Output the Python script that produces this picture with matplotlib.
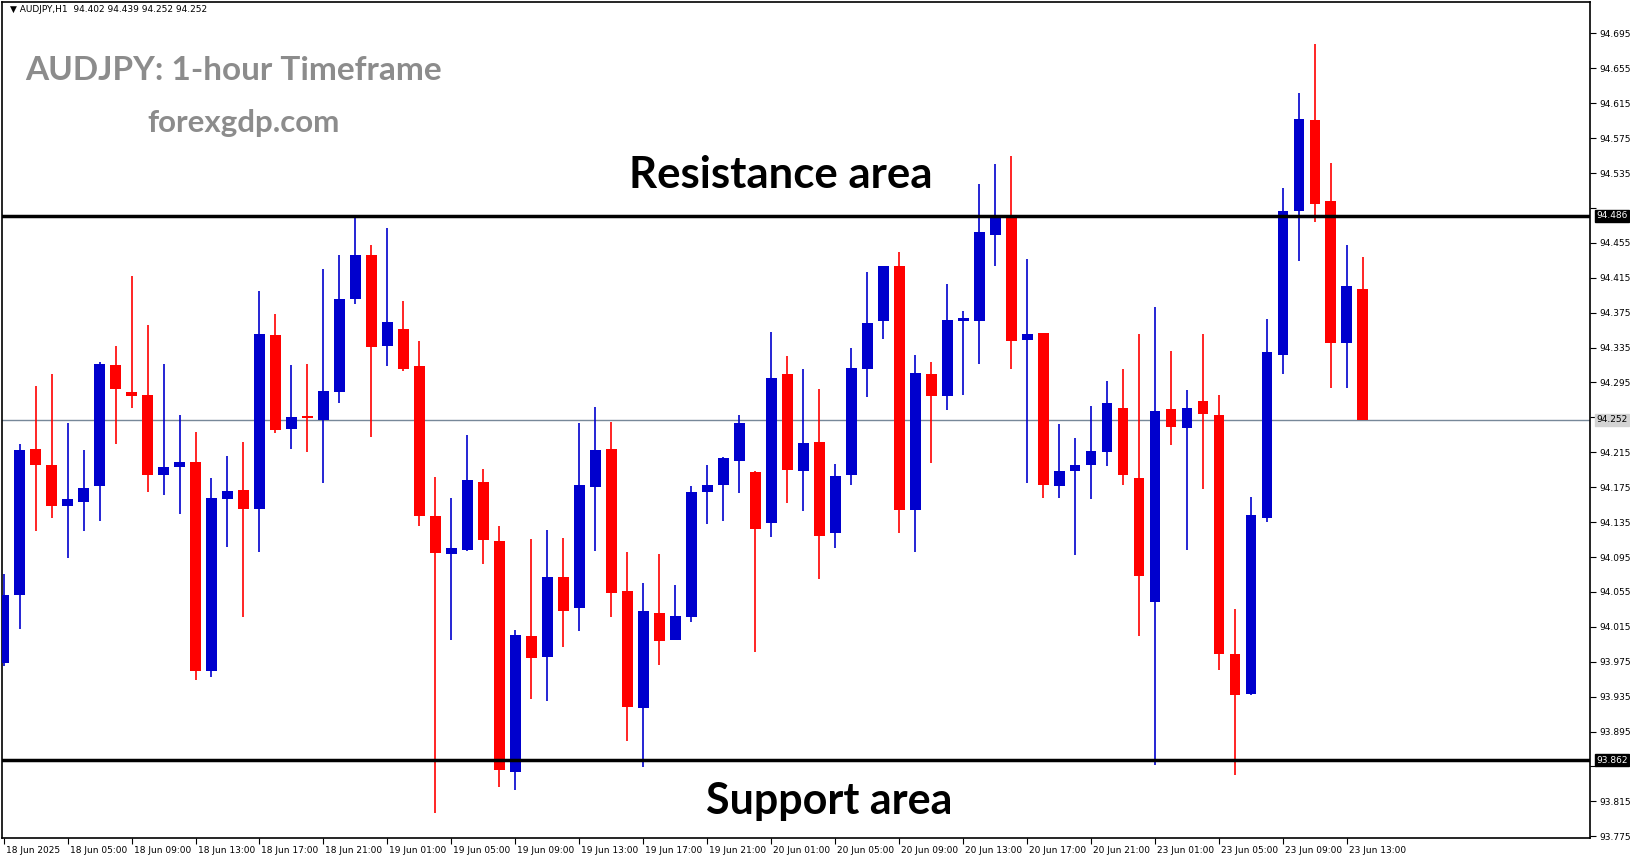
import matplotlib
matplotlib.use("Agg")
import matplotlib.pyplot as plt
import matplotlib.transforms as mt
import numpy as np

opens = [93.973,94.052,94.219,94.201,94.153,94.158,94.176,94.315,94.284,94.281,
         94.189,94.198,94.204,93.964,94.162,94.172,94.150,94.349,94.242,94.257,
         94.252,94.284,94.391,94.441,94.337,94.356,94.314,94.142,94.099,94.103,
         94.181,94.113,93.849,94.005,93.980,94.072,94.036,94.175,94.219,94.056,
         93.922,94.031,94.000,94.026,94.170,94.177,94.205,94.192,94.134,94.305,
         94.194,94.227,94.122,94.189,94.311,94.365,94.429,94.149,94.305,94.280,
         94.366,94.366,94.464,94.486,94.344,94.352,94.176,94.193,94.201,94.215,
         94.266,94.186,94.044,94.265,94.243,94.274,94.258,93.984,93.938,94.140,
         94.327,94.492,94.596,94.503,94.340,94.402]
highs = [94.076,94.224,94.291,94.305,94.249,94.218,94.318,94.337,94.417,94.361,
         94.316,94.258,94.238,94.186,94.211,94.227,94.400,94.374,94.315,94.316,
         94.425,94.441,94.484,94.453,94.472,94.388,94.343,94.187,94.163,94.235,
         94.196,94.131,94.011,94.116,94.126,94.117,94.248,94.267,94.250,94.101,
         94.065,94.098,94.063,94.176,94.201,94.210,94.258,94.193,94.353,94.325,
         94.311,94.288,94.202,94.335,94.422,94.429,94.444,94.327,94.318,94.408,
         94.377,94.522,94.545,94.555,94.436,94.352,94.247,94.231,94.268,94.297,
         94.310,94.351,94.382,94.331,94.286,94.350,94.281,94.035,94.164,94.368,
         94.518,94.627,94.683,94.546,94.452,94.439]
lows = [93.970,94.013,94.125,94.140,94.094,94.125,94.136,94.225,94.266,94.169,
        94.166,94.144,93.954,93.958,94.107,94.026,94.101,94.237,94.219,94.215,
        94.180,94.272,94.385,94.232,94.314,94.308,94.131,93.802,94.000,94.102,
        94.087,93.832,93.828,93.932,93.930,93.992,94.010,94.102,94.026,93.884,
        93.854,93.971,94.000,94.020,94.133,94.136,94.168,93.986,94.118,94.157,
        94.148,94.070,94.105,94.177,94.278,94.345,94.122,94.101,94.203,94.264,
        94.281,94.316,94.428,94.310,94.180,94.163,94.163,94.097,94.161,94.199,
        94.178,94.005,93.857,94.223,94.103,94.173,93.965,93.845,93.937,94.135,
        94.305,94.434,94.479,94.289,94.289,94.252]
closes = [94.052,94.218,94.200,94.154,94.161,94.174,94.316,94.288,94.280,94.189,
          94.198,94.204,93.964,94.163,94.171,94.150,94.350,94.241,94.256,94.254,
          94.285,94.391,94.441,94.336,94.364,94.311,94.142,94.100,94.105,94.183,
          94.115,93.851,94.006,93.979,94.072,94.033,94.178,94.218,94.054,93.923,
          94.033,93.999,94.027,94.170,94.177,94.209,94.249,94.127,94.300,94.195,
          94.226,94.119,94.188,94.312,94.363,94.429,94.149,94.306,94.280,94.367,
          94.368,94.467,94.484,94.342,94.351,94.178,94.194,94.201,94.217,94.271,
          94.189,94.073,94.262,94.244,94.266,94.259,93.984,93.937,94.143,94.330,
          94.491,94.597,94.500,94.340,94.406,94.252]

time_labels = ["18 Jun 2025","18 Jun 05:00","18 Jun 09:00","18 Jun 13:00","18 Jun 17:00",
               "18 Jun 21:00","19 Jun 01:00","19 Jun 05:00","19 Jun 09:00","19 Jun 13:00",
               "19 Jun 17:00","19 Jun 21:00","20 Jun 01:00","20 Jun 05:00","20 Jun 09:00",
               "20 Jun 13:00","20 Jun 17:00","20 Jun 21:00","23 Jun 01:00","23 Jun 05:00",
               "23 Jun 09:00","23 Jun 13:00"]
price_ticks = [93.775,93.815,93.855,93.895,93.935,93.975,94.015,94.055,94.095,94.135,
               94.175,94.215,94.255,94.295,94.335,94.375,94.415,94.455,94.495,94.535,
               94.575,94.615,94.655,94.695]
resistance = 94.486
support = 93.862
last_price = 94.252

W, H = 1631, 861
fig = plt.figure(figsize=(W/100, H/100), dpi=100)
ax = fig.add_axes([2/W, (H-838)/H, (1590-2)/W, 836/H])
ax.set_xlim(-0.1, 99.2)
ax.set_ylim(93.773, 94.731)

n = len(opens)
x = np.arange(n)
o = np.array(opens); c = np.array(closes)
up = c >= o
cols = np.where(up, "#0000CD", "#FF0000")
ax.vlines(x, lows, highs, colors=cols, lw=1.2, zorder=3)
bottom = np.minimum(o, c)
height = np.maximum(np.abs(c - o), 0.0025)
ax.bar(x, height, 0.68, bottom=bottom, color=cols, zorder=4)

ax.axhline(resistance, color="black", lw=2.5, zorder=5)
ax.axhline(support, color="black", lw=2.5, zorder=5)
ax.axhline(last_price, color="#778899", lw=1, zorder=2)

specials = [resistance, support, last_price]
ax.yaxis.tick_right()
ax.set_yticks(price_ticks)
ax.set_yticklabels(["" if min(abs(v - s) for s in specials) < 0.01 else f"{v:.3f}"
                    for v in price_ticks], fontsize=6.5)
ax.tick_params(axis="y", length=4, pad=3)
ax.set_xticks(np.arange(0, n, 4))
ax.set_xticklabels(time_labels, fontsize=6.5, ha="left")
ax.tick_params(axis="x", length=4, pad=2)
off = mt.ScaledTranslation(2/100, 0, fig.dpi_scale_trans)
for lab in ax.get_xticklabels():
    lab.set_transform(lab.get_transform() + off)
for s in ax.spines.values():
    s.set_linewidth(1.2)

tr = ax.get_yaxis_transform()
for val, fc, tc in [(resistance, "black", "white"), (support, "black", "white"),
                    (last_price, "#D3D3D3", "black")]:
    ax.text(1.004, val, f"{val:.3f}", transform=tr, fontsize=6.5, color=tc,
            va="center", ha="left", bbox=dict(boxstyle="square,pad=0.15", fc=fc, ec=fc),
            zorder=10, clip_on=False)

fig.text(10/W, 1-10/H, "\u25BC AUDJPY,H1  94.402 94.439 94.252 94.252", fontsize=6.5,
         va="center", ha="left")
fig.text(25/W, 1-71/H, "AUDJPY: 1-hour Timeframe", fontsize=24, fontweight="bold",
         color="#8C8C8C", family="Lato", va="center", ha="left")
fig.text(147/W, 1-123/H, "forexgdp.com", fontsize=22.5, fontweight="bold",
         color="#8C8C8C", family="Lato", va="center", ha="left")
ax.text(48.6, 94.533, "Resistance area", fontsize=31.5, fontweight="bold", family="Lato",
        ha="center", va="center", zorder=10)
ax.text(51.6, 93.815, "Support area", fontsize=31, fontweight="bold", family="Lato",
        ha="center", va="center", zorder=10)

fig.savefig("out.png", dpi=100)
